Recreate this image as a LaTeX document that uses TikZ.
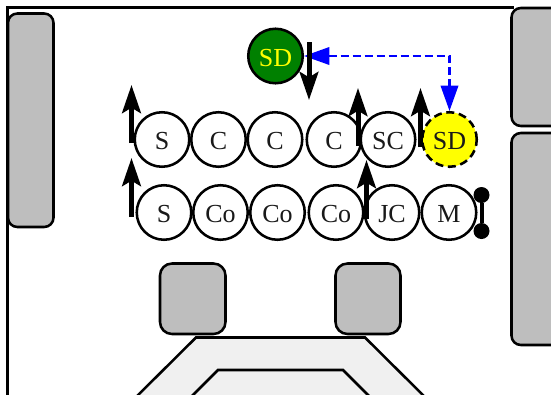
\documentclass[tikz,border=0pt]{standalone}
\usepackage{fontspec}
\setmainfont{Liberation Serif}
\usetikzlibrary{arrows.meta}
\definecolor{boxgray}{HTML}{BEBEBE}
\definecolor{tablegray}{HTML}{F0F0F0}
\definecolor{sdgreen}{HTML}{008000}
\definecolor{sdyellow}{RGB}{255,255,0}
\definecolor{swapblue}{RGB}{0,0,255}
\tikzset{
  seat/.style={circle,draw=black,fill=white,line width=1.9pt,minimum size=40.9pt,inner sep=0pt,font=\fontsize{19.5}{20}\selectfont,text=black!90,text height=15.5pt,text depth=0pt},
  sdgreenseat/.style={seat,fill=sdgreen,text=sdyellow},
  sdyellowseat/.style={seat,fill=sdyellow,dash pattern=on 6pt off 3.5pt},
  furn/.style={draw=black,fill=boxgray,line width=1.9pt,rounded corners=7pt},
  tableshape/.style={draw=black,fill=tablegray,line width=1.9pt},
  move/.style={line width=3.75pt,-{Stealth[length=21pt,width=14pt,inset=4pt]}},
  swap/.style={draw=swapblue,line width=1.9pt,dash pattern=on 6pt off 3pt,
     {Triangle[length=19pt,width=13pt]}-{Triangle[length=19pt,width=13pt]}},
  handle/.style={line width=3pt},
  knob/.style={circle,fill=black,draw=none,minimum size=12pt,inner sep=0pt}
}
\begin{document}
\begin{tikzpicture}[x=0.75pt,y=-0.75pt]
\useasboundingbox (0,0) rectangle (551,394);
\clip (0,0) rectangle (551,394);
\fill[white] (0,0) rectangle (551,394);
% room
\draw[line width=1.9pt] (7.5,400) -- (7.5,7.5) -- (514,7.5);
% furniture
\draw[furn] (8,13.5) rectangle (53.5,227);
\draw[furn] (511.5,8) rectangle (570,126);
\draw[furn] (511.5,133) rectangle (570,345);
\draw[furn,rounded corners=9pt] (160,263.5) rectangle (225.5,334);
\draw[furn,rounded corners=9pt] (335.5,263.5) rectangle (400.5,334);
% table
\draw[tableshape] (127,406) -- (196,337.5) -- (365,337.5) -- (434,406) -- cycle;
\draw[tableshape] (182,406) -- (218,370) -- (343,370) -- (379,406) -- cycle;
% seats
\node[seat] (s1) at (162,139.5) {S};
\node[seat] (c1) at (218.5,139.5) {C};
\node[seat] (c2) at (275,139.5) {C};
\node[seat] (c3) at (334,139.5) {C};
\node[seat] (sc) at (388,139.5) {SC};
\node[sdyellowseat] (sdy) at (449.5,139.5) {SD};
\node[seat] (s2) at (164,212.5) {S};
\node[seat] (co1) at (220.5,212.5) {Co};
\node[seat] (co2) at (277.5,212.5) {Co};
\node[seat] (co3) at (336,212.5) {Co};
\node[seat] (jc) at (392,212.5) {JC};
\node[seat] (m) at (449,212.5) {M};
\node[sdgreenseat] (sdg) at (275.5,56) {SD};
% swap
\draw[swap] (sdg.east) -| (sdy.north);
% coordinates
\coordinate (a1s) at (131.5,143); \coordinate (a1e) at (131.5,85);
\coordinate (a2s) at (131.5,217); \coordinate (a2e) at (131.5,158);
\coordinate (a3s) at (358,146);   \coordinate (a3e) at (358,88);
\coordinate (a4s) at (420.5,147); \coordinate (a4e) at (420.5,88);
\coordinate (a5s) at (309,42);    \coordinate (a5e) at (309,100);
\coordinate (a6s) at (366.5,219); \coordinate (a6e) at (366.5,160);
\draw[move] (a1s) -- (a1e);
\draw[move] (a2s) -- (a2e);
\draw[move] (a3s) -- (a3e);
\draw[move] (a4s) -- (a4e);
\draw[move] (a5s) -- (a5e);
\draw[move] (a6s) -- (a6e);
\node[knob] (h1) at (481.5,195) {};
\node[knob] (h2) at (481.5,231) {};
\draw[handle] (h1) -- (h2);
\end{tikzpicture}
\end{document}
